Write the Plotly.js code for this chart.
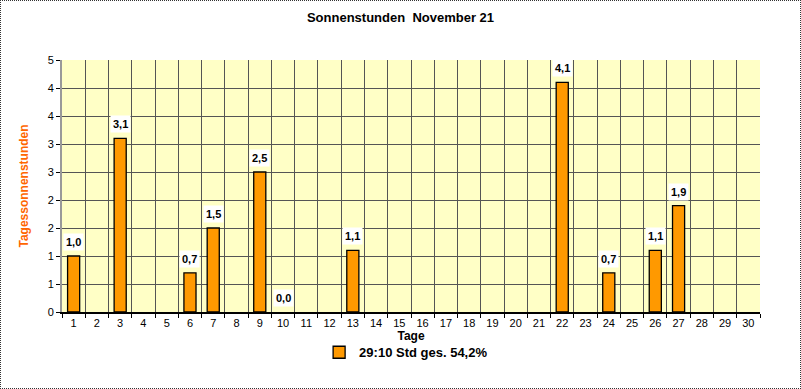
<!DOCTYPE html>
<html><head><meta charset="utf-8">
<script src="https://cdn.plot.ly/plotly-3.0.1.min.js"></script>
<style>
html,body{margin:0;padding:0;background:#fff;}
#wrap{position:relative;width:801px;height:389px;}
#chart{width:801px;height:389px;}
#frame{position:absolute;left:0;top:0;width:799px;height:387px;border:1px dotted #333;pointer-events:none;}
</style></head>
<body>
<div id="wrap"><div id="chart"></div><div id="frame"></div></div>
<script>
const days = ["1","2","3","4","5","6","7","8","9","10","11","12","13","14","15","16","17","18","19","20","21","22","23","24","25","26","27","28","29","30"];
const hours = [1.0,null,3.1,null,null,0.7,1.5,null,2.5,0.0,null,null,1.1,null,null,null,null,null,null,null,null,4.1,null,0.7,null,1.1,1.9,null,null,null];
const yTickVals = [0,0.5,1,1.5,2,2.5,3,3.5,4,4.5];
const yTickText = ["0","1","1","2","2","3","3","4","4","5"];
const seriesName = "<b>29:10 Std ges. 54,2%</b>";

const font = "Liberation Sans, Arial, sans-serif";

const annotations = [];
days.forEach((d,i)=>{
  if(hours[i]!==null){
    annotations.push({
      x:i, y:hours[i], xref:'x', yref:'y',
      text:'<b>'+hours[i].toFixed(1).replace('.',',')+'</b>',
      showarrow:false, yanchor:'bottom', yshift:5,
      bgcolor:'#ffffff', borderpad:2,
      font:{family:font,size:11,color:'#000'}
    });
  }
});

const trace = {
  type:'bar', x:days, y:hours, name:seriesName,
  marker:{color:'#FF9900', line:{color:'#000', width:hours.map(v=>v?1.3:0)}},
  showlegend:true, hoverinfo:'skip'
};

const layout = {
  width:801, height:389,
  margin:{l:62,r:41,t:60,b:77},
  paper_bgcolor:'#ffffff',
  plot_bgcolor:'#FFFFC6',
  bargap:0.48,
  title:{text:'<b>Sonnenstunden  November 21</b>', x:0.5, xanchor:'center', y:0.955, yanchor:'middle',
         font:{family:font,size:13,color:'#000'}},
  xaxis:{type:'category', tickson:'boundaries', ticks:'outside', ticklen:4, tickcolor:'#000',
         showgrid:true, gridcolor:'#555', gridwidth:1,
         showline:true, linecolor:'#000', linewidth:2,
         tickfont:{family:font,size:11,color:'#000'},
         title:{text:'<b>Tage</b>', font:{family:font,size:12,color:'#000'}, standoff:2},
         fixedrange:true},
  yaxis:{range:[0,4.5], tickvals:yTickVals, ticktext:yTickText, ticks:'outside', ticklen:4, tickcolor:'#000',
         showgrid:true, gridcolor:'#555', gridwidth:1,
         showline:true, linecolor:'#999', linewidth:2, zeroline:false,
         tickfont:{family:font,size:11,color:'#000'},
         title:{text:'<b>Tagessonnenstunden</b>', font:{family:font,size:12,color:'#FF6600'}, standoff:16},
         fixedrange:true},
  legend:{orientation:'h', x:0.493, xanchor:'center', y:-0.16, yanchor:'middle',
          font:{family:font,size:13,color:'#000'}, bgcolor:'rgba(0,0,0,0)'},
  annotations:annotations
};

Plotly.newPlot('chart',[trace],layout,{displayModeBar:false,staticPlot:true});
</script>
</body></html>
